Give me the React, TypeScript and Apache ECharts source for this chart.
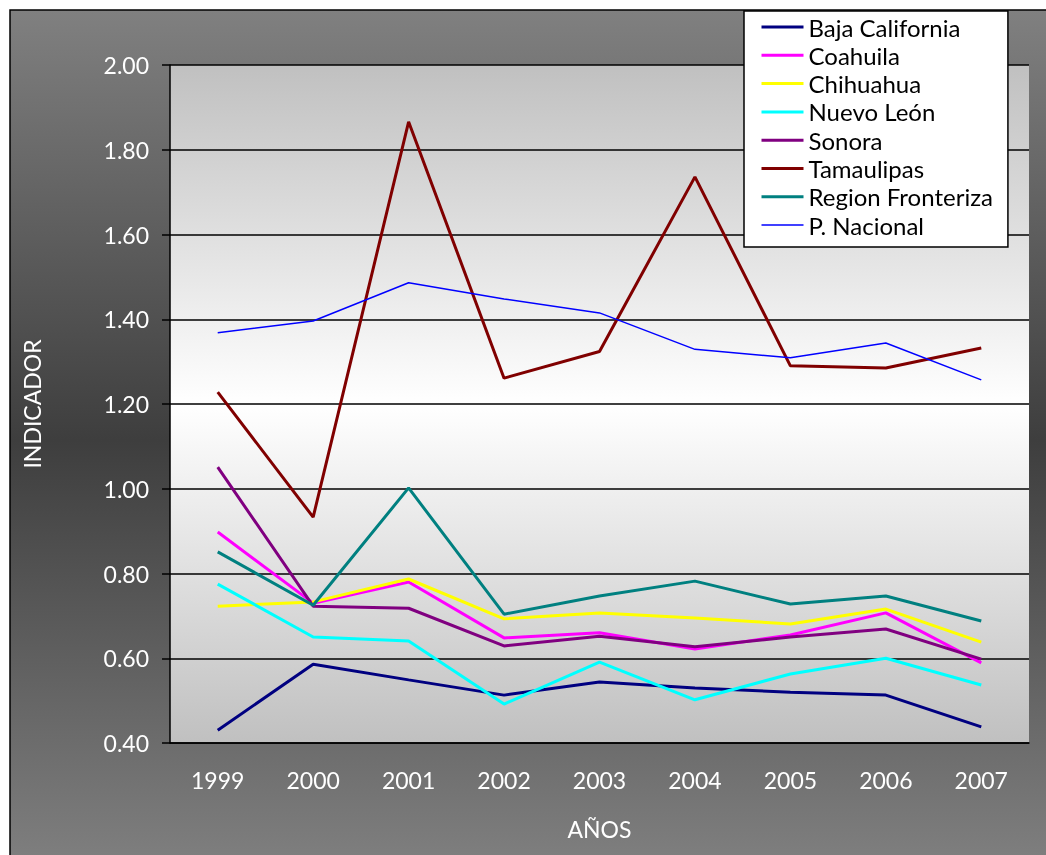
import React, { useEffect, useRef } from "react";
import * as echarts from "echarts";

const years = ["1999", "2000", "2001", "2002", "2003", "2004", "2005", "2006", "2007"];
const bajaCalifornia = [0.43, 0.586, 0.549, 0.513, 0.544, 0.53, 0.52, 0.513, 0.438];
const coahuila = [0.898, 0.73, 0.78, 0.648, 0.66, 0.622, 0.655, 0.707, 0.589];
const chihuahua = [0.723, 0.733, 0.787, 0.693, 0.707, 0.695, 0.681, 0.716, 0.638];
const nuevoLeon = [0.775, 0.65, 0.641, 0.492, 0.591, 0.502, 0.563, 0.6, 0.537];
const sonora = [1.051, 0.723, 0.718, 0.629, 0.652, 0.627, 0.65, 0.669, 0.598];
const tamaulipas = [1.228, 0.933, 1.866, 1.261, 1.324, 1.736, 1.29, 1.285, 1.332];
const regionFronteriza = [0.851, 0.725, 1.002, 0.704, 0.747, 0.782, 0.728, 0.747, 0.688];
const pNacional = [1.368, 1.396, 1.486, 1.448, 1.415, 1.329, 1.309, 1.344, 1.257];

const seriesDefs = [
  { name: "Baja California", data: bajaCalifornia, color: "#000080", width: 3 },
  { name: "Coahuila", data: coahuila, color: "#ff00ff", width: 3 },
  { name: "Chihuahua", data: chihuahua, color: "#ffff00", width: 3 },
  { name: "Nuevo León", data: nuevoLeon, color: "#00ffff", width: 3 },
  { name: "Sonora", data: sonora, color: "#800080", width: 3 },
  { name: "Tamaulipas", data: tamaulipas, color: "#800000", width: 3 },
  { name: "Region Fronteriza", data: regionFronteriza, color: "#008080", width: 3 },
  { name: "P. Nacional", data: pNacional, color: "#0000ff", width: 1.5 },
];

const FONT = "Lato, 'Open Sans', sans-serif";

export default function App() {
  const ref = useRef<HTMLDivElement>(null);
  useEffect(() => {
    if (!ref.current) return;
    const chart = echarts.init(ref.current, undefined, { renderer: "svg" });
    chart.setOption({
      animation: false,
      graphic: [
        {
          type: "rect",
          z: -10,
          silent: true,
          shape: { x: 10, y: 10, width: 1100, height: 860 },
          style: {
            fill: new echarts.graphic.LinearGradient(0, 0, 0, 1, [
              { offset: 0, color: "#808080" },
              { offset: 0.5, color: "#3e3e3e" },
              { offset: 1, color: "#808080" },
            ]),
            stroke: "#000",
            lineWidth: 1.5,
          },
        },
      ],
      grid: {
        left: 170,
        top: 65,
        width: 859,
        height: 678,
        show: true,
        borderWidth: 0,
        backgroundColor: new echarts.graphic.LinearGradient(0, 0, 0, 1, [
          { offset: 0, color: "#c0c0c0" },
          { offset: 0.5, color: "#ffffff" },
          { offset: 1, color: "#c0c0c0" },
        ]),
      },
      legend: {
        orient: "vertical",
        left: 744,
        top: 11,
        padding: [4, 15, 10, 16],
        itemGap: 4.3,
        itemWidth: 42,
        itemHeight: 14,
        backgroundColor: "#ffffff",
        borderColor: "#000000",
        borderWidth: 1.5,
        itemStyle: { color: "transparent", borderWidth: 0, opacity: 0 },
        textStyle: { color: "#000", fontSize: 24, fontFamily: FONT },
        data: seriesDefs.map((s) => ({
          name: s.name,
          lineStyle: { width: s.width, color: s.color },
        })),
      },
      xAxis: {
        type: "category",
        data: years,
        boundaryGap: true,
        name: "AÑOS",
        nameLocation: "middle",
        nameGap: 74,
        nameTextStyle: { color: "#fff", fontSize: 23, fontFamily: FONT },
        axisLine: { lineStyle: { color: "#000", width: 1.5 } },
        axisTick: { length: 8, lineStyle: { color: "#000", width: 1.5 } },
        axisLabel: { color: "#fff", fontSize: 23, fontFamily: FONT, margin: 25 },
        splitLine: { show: false },
      },
      yAxis: {
        type: "value",
        min: 0.4,
        max: 2.0,
        interval: 0.2,
        name: "INDICADOR",
        nameLocation: "middle",
        nameRotate: 90,
        nameGap: 127,
        nameTextStyle: { color: "#fff", fontSize: 23, fontFamily: FONT },
        axisLine: { show: true, lineStyle: { color: "#000", width: 1.5 } },
        axisTick: { show: true, length: 8, lineStyle: { color: "#000", width: 1.5 } },
        axisLabel: {
          color: "#fff",
          fontSize: 23,
          fontFamily: FONT,
          margin: 21,
          formatter: (v: number) => v.toFixed(2),
        },
        splitLine: { show: true, lineStyle: { color: "#000", width: 1.5 } },
      },
      series: seriesDefs.map((s) => ({
        name: s.name,
        type: "line",
        data: s.data,
        symbol: "none",
        showSymbol: false,
        color: s.color,
        lineStyle: { color: s.color, width: s.width },
        z: 3,
      })),
    });
    return () => chart.dispose();
  }, []);
  return (
    <div
      ref={ref}
      style={{ position: "fixed", left: 0, top: 0, width: 1046, height: 855 }}
    />
  );
}
